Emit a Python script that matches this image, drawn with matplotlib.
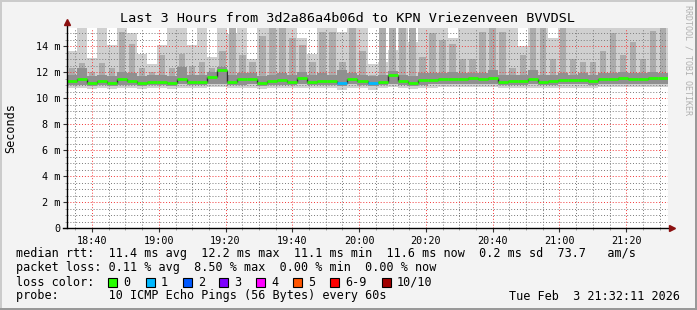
import numpy as np
import matplotlib
matplotlib.use("Agg")
import matplotlib.pyplot as plt
from matplotlib.patches import Rectangle

plt.rcParams["font.family"] = ["DejaVu Sans Mono"]

# 3-minute steps starting 18:32:30 (minutes after 18:00)
step_start = 32.5
step_len = 3.0

median_rtt = [11.3, 11.5, 11.2, 11.33, 11.2, 11.45, 11.3, 11.2, 11.27, 11.27,
              11.2, 11.44, 11.25, 11.27, 11.6, 12.2, 11.25, 11.45, 11.44, 11.2,
              11.3, 11.38, 11.27, 11.55, 11.27, 11.35, 11.3, 11.2, 11.5, 11.3,
              11.2, 11.27, 11.8, 11.35, 11.2, 11.38, 11.4, 11.5, 11.5, 11.5,
              11.55, 11.5, 11.55, 11.27, 11.3, 11.3, 11.44, 11.27, 11.3, 11.38,
              11.38, 11.4, 11.3, 11.5, 11.5, 11.56, 11.5, 11.5, 11.56, 11.56]
rtt_max = [13.6, 15.4, 13.1, 15.4, 14.1, 15.4, 15.0, 13.4, 12.6, 14.1,
           15.4, 15.4, 14.1, 15.4, 13.2, 15.4, 14.9, 15.4, 13.0, 15.4,
           15.4, 15.4, 15.4, 14.6, 13.4, 15.4, 15.4, 15.1, 15.4, 15.4,
           12.6, 12.8, 13.7, 15.4, 14.3, 15.4, 15.4, 15.4, 14.6, 15.4,
           15.4, 15.4, 15.4, 15.4, 15.4, 14.0, 15.4, 15.4, 14.6, 15.4,
           15.4, 15.4, 15.4, 15.4, 15.4, 15.4, 15.4, 15.4, 15.4, 15.4]
rtt_hi = [12.3, 12.7, 12.0, 12.7, 12.3, 15.1, 14.2, 12.3, 12.0, 13.3,
          12.3, 13.4, 12.5, 12.8, 12.3, 13.6, 15.4, 13.3, 12.8, 14.8,
          15.4, 15.4, 14.6, 14.1, 12.8, 15.1, 15.1, 12.8, 15.4, 13.6,
          11.8, 15.4, 15.4, 15.4, 15.4, 13.2, 15.0, 14.5, 14.2, 13.0,
          13.0, 15.1, 15.4, 15.1, 12.3, 13.3, 15.4, 15.4, 13.0, 15.4,
          13.0, 12.8, 12.8, 13.6, 15.0, 13.3, 14.3, 13.0, 15.2, 15.4]
rtt_dark = [11.8, 12.3, 11.7, 11.8, 11.7, 12.0, 11.9, 11.7, 11.8, 11.8,
            11.7, 12.4, 11.8, 11.8, 12.0, 12.4, 11.8, 11.9, 11.9, 11.7,
            11.8, 11.9, 11.8, 12.0, 11.8, 11.9, 11.8, 12.2, 11.9, 11.8,
            11.7, 11.8, 12.1, 11.8, 11.7, 11.9, 11.9, 11.9, 12.0, 11.9,
            11.9, 11.9, 12.2, 11.8, 11.8, 11.8, 12.2, 11.8, 11.8, 11.9,
            11.8, 11.9, 11.8, 11.9, 11.9, 12.0, 11.9, 11.9, 12.0, 11.9]
rtt_lo = [11.0, 11.0, 10.95, 11.0, 10.95, 11.0, 11.0, 10.95, 11.0, 11.0,
          10.95, 11.05, 11.0, 11.0, 11.1, 11.1, 11.0, 11.0, 11.05, 10.95,
          11.0, 11.0, 11.0, 11.05, 11.0, 11.0, 11.0, 10.9, 11.05, 11.0,
          10.9, 11.0, 11.1, 11.0, 10.95, 11.0, 11.05, 11.1, 11.1, 11.1,
          11.1, 11.1, 11.1, 11.0, 11.0, 11.0, 11.05, 11.0, 11.0, 11.05,
          11.05, 11.05, 11.0, 11.1, 11.1, 11.1, 11.1, 11.1, 11.1, 11.1]
rtt_min = [10.75, 10.75, 10.7, 10.75, 10.7, 10.75, 10.75, 10.7, 10.75, 10.75,
           10.7, 10.8, 10.75, 10.75, 10.85, 10.85, 10.75, 10.8, 10.8, 10.7,
           10.75, 10.75, 10.75, 10.8, 10.75, 10.75, 10.75, 10.65, 10.8, 10.75,
           10.65, 10.75, 10.85, 10.75, 10.7, 10.8, 10.8, 10.85, 10.85, 10.85,
           10.85, 10.85, 10.85, 10.75, 10.75, 10.75, 10.8, 10.75, 10.75, 10.8,
           10.8, 10.8, 10.75, 10.85, 10.85, 10.85, 10.85, 10.85, 10.85, 10.85]
loss = [0] * 60
loss[27] = 1
loss[30] = 1

loss_labels = ["0", "1", "2", "3", "4", "5", "6-9", "10/10"]
loss_colors = ["#26ff00", "#00b8ff", "#0059ff", "#7e00ff", "#ff00ff",
               "#ff5500", "#ff0000", "#a10000"]
loss_sq_x = [108, 146, 183, 219, 256, 293, 330, 382]

y_ticks = [0, 2, 4, 6, 8, 10, 12, 14]
x_ticks = [40, 60, 80, 100, 120, 140, 160, 180, 200]
x_labels = ["18:40", "19:00", "19:20", "19:40", "20:00", "20:20", "20:40", "21:00", "21:20"]

W, H = 697, 310
fig = plt.figure(figsize=(W / 100, H / 100), dpi=100, facecolor="#f3f3f3")


def px(x, y):
    return x / W, 1 - y / H


ax = fig.add_axes([67 / W, (H - 228) / H, 601 / W, 200 / H], facecolor="white")
n = len(median_rtt)
left = step_start + step_len * np.arange(n)
med = np.array(median_rtt)

# smoke
ax.bar(left, np.array(rtt_max) - np.array(rtt_min), bottom=rtt_min, width=step_len,
       align="edge", color="#d0d0d0", lw=0, zorder=1)
ax.bar(left + step_len / 2, np.array(rtt_hi) - np.array(rtt_lo), bottom=rtt_lo,
       width=step_len * 0.65, color="#acacac", lw=0, zorder=2)
ax.bar(left, np.array(rtt_dark) - np.array(rtt_lo), bottom=rtt_lo, width=step_len,
       align="edge", color="#909090", lw=0, zorder=3)

# median line
ax.vlines(left[1:], med[:-1], med[1:], color="#333333", lw=1.0, zorder=5)
for i in range(n):
    ax.hlines(med[i], left[i], left[i] + step_len, color=loss_colors[loss[i]],
              lw=2.0, zorder=6)

ax.set_xlim(step_start, step_start + step_len * n)
ax.set_ylim(0, 15.4)
ax.set_xticks(x_ticks)
ax.set_xticklabels(x_labels)
ax.set_xticks(np.arange(35, 213, 5), minor=True)
ax.set_yticks(y_ticks)
ax.set_yticklabels(["0"] + [f"{v} m" for v in y_ticks[1:]])
ax.set_yticks(np.arange(0, 15.4, 0.5), minor=True)
ax.tick_params(axis="both", which="major", labelsize=7.3, length=3, width=0.8, color="#333333", pad=2)
ax.tick_params(axis="both", which="minor", length=1.5, width=0.6, color="#999999")
ax.tick_params(axis="x", pad=3)
dots = (0, (1.0, 1.9))
ax.grid(which="minor", color=(0.5, 0.5, 0.5, 0.3), linestyle=dots, lw=0.72, zorder=8)
ax.grid(which="major", color=(0.95, 0.25, 0.25, 0.45), linestyle=dots, lw=0.72, zorder=9)
ax.set_axisbelow(False)
for s in ax.spines.values():
    s.set_visible(False)

# axis lines with arrows
ax.plot([-0.007, 1.004], [0, 0], color="black", lw=1, transform=ax.transAxes, clip_on=False, zorder=10)
ax.plot([0, 0], [0, 1.025], color="black", lw=1, transform=ax.transAxes, clip_on=False, zorder=10)
ax.plot([1.006], [0], marker=">", ms=4.5, color="#8b1010", transform=ax.transAxes, clip_on=False, zorder=11)
ax.plot([0], [1.03], marker="^", ms=4.5, color="#8b1010", transform=ax.transAxes, clip_on=False, zorder=11)

# texts
fig.text(*px(348, 19), "Last 3 Hours from 3d2a86a4b06d to KPN Vriezenveen BVVDSL",
         ha="center", va="center", fontsize=9.7)
fig.text(*px(11, 128), "Seconds", rotation=90, ha="center", va="center", fontsize=8.5)
fig.text(*px(688, 60), "RRDTOOL / TOBI OETIKER", rotation=270, ha="center", va="center",
         fontsize=6, color="#b0b0b0")

fs = 8.5
fig.text(*px(16, 254), "median rtt:  11.4 ms avg  12.2 ms max  11.1 ms min  11.6 ms now  0.2 ms sd  73.7   am/s",
         ha="left", va="center", fontsize=fs)
fig.text(*px(16, 268), "packet loss: 0.11 % avg  8.50 % max  0.00 % min  0.00 % now",
         ha="left", va="center", fontsize=fs)
fig.text(*px(16, 282), "loss color:", ha="left", va="center", fontsize=fs)
for sx, lab, col in zip(loss_sq_x, loss_labels, loss_colors):
    fig.patches.append(Rectangle(px(sx, 286.5), 8.5 / W, 9 / H, transform=fig.transFigure,
                                 facecolor=col, edgecolor="black", lw=0.8))
    fig.text(*px(sx + 15, 282), lab, ha="left", va="center", fontsize=fs)
fig.text(*px(16, 296), "probe:       10 ICMP Echo Pings (56 Bytes) every 60s",
         ha="left", va="center", fontsize=fs)
fig.text(*px(680, 296), "Tue Feb  3 21:32:11 2026", ha="right", va="center", fontsize=fs)

# frame
fig.patches.append(Rectangle((0, 0), 2 / W, 1, transform=fig.transFigure, color="#cbcbcb", lw=0))
fig.patches.append(Rectangle((0, 1 - 2 / H), 1, 2 / H, transform=fig.transFigure, color="#cbcbcb", lw=0))
fig.patches.append(Rectangle((1 - 2 / W, 0), 2 / W, 1, transform=fig.transFigure, color="#999999", lw=0))
fig.patches.append(Rectangle((0, 0), 1, 2 / H, transform=fig.transFigure, color="#999999", lw=0))

fig.savefig("out.png", dpi=100, facecolor=fig.get_facecolor())
